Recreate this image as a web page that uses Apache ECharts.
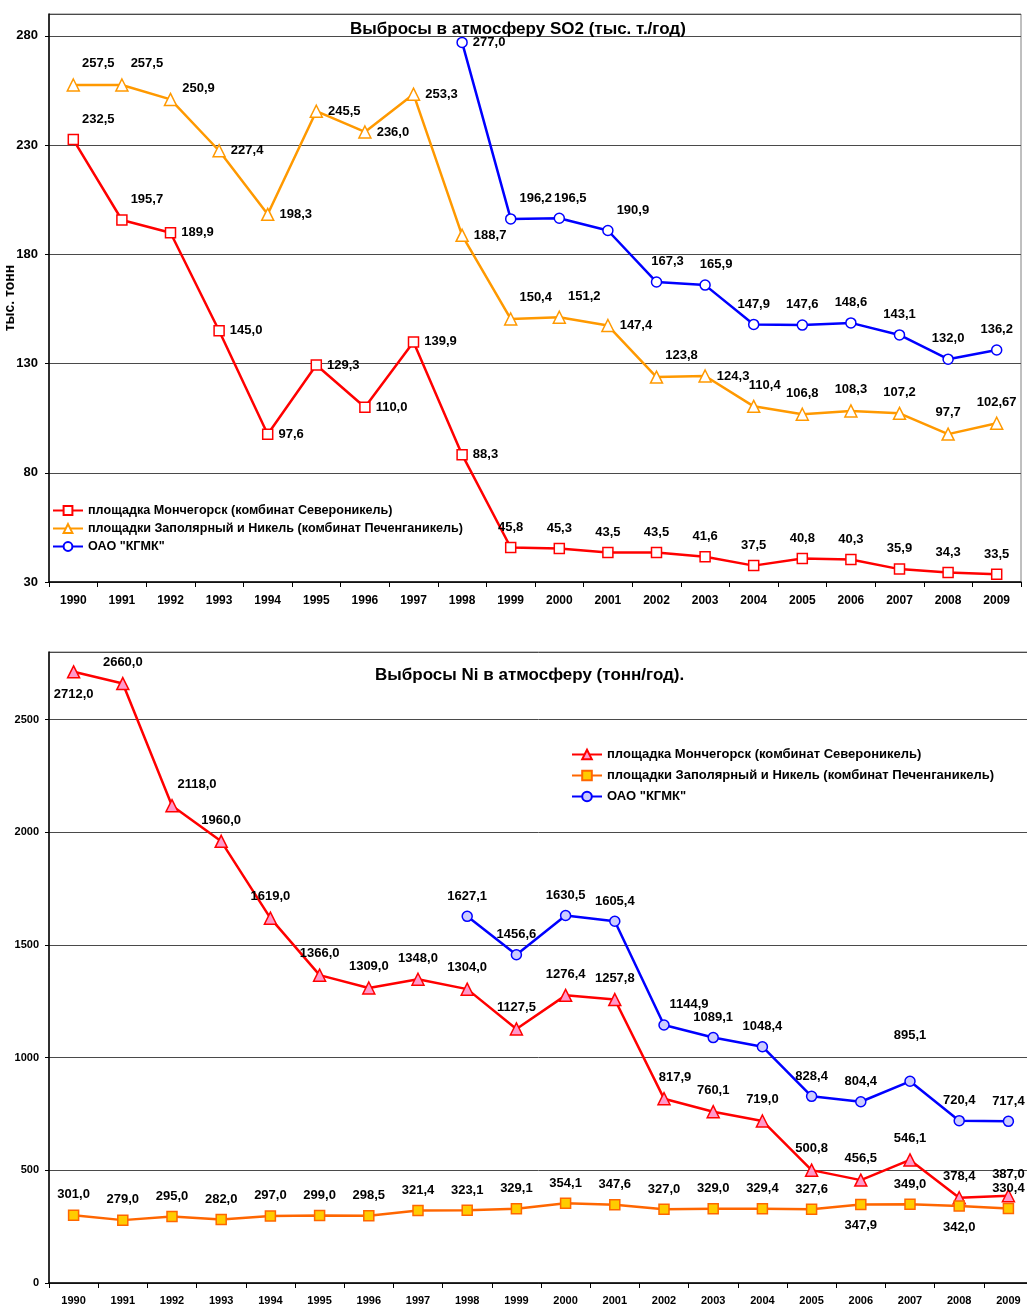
<!DOCTYPE html>
<html lang="ru">
<head>
<meta charset="UTF-8">
<title>Выбросы в атмосферу</title>
<style>
    * { margin: 0; padding: 0; }
    body { background: #fff; }
    #chart { width: 1027px; height: 1306px; }
</style>
</head>
<body>
<div id="chart"></div>
<script src="https://cdn.jsdelivr.net/npm/echarts@6/dist/echarts.min.js"></script>
<script>
var years = ['1990', '1991', '1992', '1993', '1994', '1995', '1996', '1997', '1998', '1999',
             '2000', '2001', '2002', '2003', '2004', '2005', '2006', '2007', '2008', '2009'];

var nameMonch = 'площадка Мончегорск (комбинат Североникель)';
var namePech = 'площадки Заполярный и Никель (комбинат Печенганикель)';
var nameKgmk = 'ОАО "КГМК"';

// SO2, тыс. т/год
var so2Monch = [232.5, 195.7, 189.9, 145.0, 97.6, 129.3, 110.0, 139.9, 88.3, 45.8,
                45.3, 43.5, 43.5, 41.6, 37.5, 40.8, 40.3, 35.9, 34.3, 33.5];
var so2Pech = [257.5, 257.5, 250.9, 227.4, 198.3, 245.5, 236.0, 253.3, 188.7, 150.4,
               151.2, 147.4, 123.8, 124.3, 110.4, 106.8, 108.3, 107.2, 97.7, 102.67];
var so2Kgmk = [null, null, null, null, null, null, null, null, 277.0, 196.2,
               196.5, 190.9, 167.3, 165.9, 147.9, 147.6, 148.6, 143.1, 132.0, 136.2];

// Ni, тонн/год
var niMonch = [2712.0, 2660.0, 2118.0, 1960.0, 1619.0, 1366.0, 1309.0, 1348.0, 1304.0, 1127.5,
               1276.4, 1257.8, 817.9, 760.1, 719.0, 500.8, 456.5, 546.1, 378.4, 387.0];
var niPech = [301.0, 279.0, 295.0, 282.0, 297.0, 299.0, 298.5, 321.4, 323.1, 329.1,
              354.1, 347.6, 327.0, 329.0, 329.4, 327.6, 347.9, 349.0, 342.0, 330.4];
var niKgmk = [null, null, null, null, null, null, null, null, 1627.1, 1456.6,
              1630.5, 1605.4, 1144.9, 1089.1, 1048.4, 828.4, 804.4, 895.1, 720.4, 717.4];

// где стоит подпись у каждой точки
var so2MonchPos = ['tr', 'tr', 'r', 'r', 'r', 'r', 'r', 'r', 'r', 't',
                   't', 't', 't', 't', 't', 't', 't', 't', 't', 't'];
var so2PechPos = ['tr', 'tr', 'ru', 'r', 'r', 'r', 'r', 'r', 'r', 'tr',
                  'tr', 'r', 'tr', 'r', 'ts', 't', 't', 't', 't', 't'];
var so2KgmkPos = ['', '', '', '', '', '', '', '', 'r', 'tr',
                  'ts', 'tr', 'ts', 'ts', 't', 't', 't', 't', 't', 't'];
var niMonchPos = ['b', 't', 'tr', 't', 't', 't', 't', 't', 't', 't',
                  't', 't', 'ts', 't', 't', 't', 't', 't', 't', 't'];
var niPechPos = ['t', 't', 't', 't', 't', 't', 't', 't', 't', 't',
                 't', 't', 't', 't', 't', 't', 'b', 't', 'b', 't'];
var niKgmkPos = ['', '', '', '', '', '', '', '', 't', 't',
                 't', 't', 'tr', 't', 't', 't', 't', 'tt', 't', 't'];

var FONT = '"Liberation Sans", Arial, sans-serif';

function fmt(v) {
    var s = String(v);
    if (s.indexOf('.') < 0) s += '.0';
    return s.replace('.', ',');
}

function place(code) {
    switch (code) {
        case 'r': return { position: 'right', distance: 5 };
        case 'ru': return { position: 'right', distance: 5, offset: [0, -11] };
        case 'b': return { position: 'bottom', distance: 9 };
        case 'tr': return { position: 'top', distance: 8, offset: [25, 0] };
        case 'ts': return { position: 'top', distance: 8, offset: [11, 0] };
        case 'tt': return { position: 'top', distance: 34 };
        default: return { position: 'top', distance: 8 };
    }
}

function makeSeries(name, vals, pos, idx, color, fill, symbol, size) {
    var data = [];
    for (var i = 0; i < vals.length; i++) {
        if (vals[i] == null) { data.push(null); continue; }
        data.push({ value: vals[i], label: place(pos[i]) });
    }
    return {
        name: name,
        type: 'line',
        xAxisIndex: idx,
        yAxisIndex: idx,
        data: data,
        symbol: symbol,
        symbolSize: size,
        showAllSymbol: true,
        lineStyle: { color: color, width: 2.5 },
        itemStyle: { color: fill, borderColor: color, borderWidth: 1.5 },
        label: {
            show: true,
            color: '#000',
            fontWeight: 'bold',
            fontSize: 13,
            fontFamily: FONT,
            formatter: function (p) { return fmt(p.value); }
        },
        emphasis: { disabled: true },
        z: 3
    };
}

var chart = echarts.init(document.getElementById('chart'));

var option = {
    backgroundColor: '#fff',
    animation: false,
    title: [
        {
            text: 'Выбросы в атмосферу SO2 (тыс. т./год)',
            left: 345, top: 16,
            textStyle: { fontSize: 17, fontWeight: 'bold', color: '#000', fontFamily: FONT }
        },
        {
            text: 'Выбросы Ni в атмосферу (тонн/год).',
            left: 370, top: 662,
            textStyle: { fontSize: 17, fontWeight: 'bold', color: '#000', fontFamily: FONT }
        }
    ],
    legend: [
        {
            data: [nameMonch, namePech, nameKgmk],
            orient: 'vertical',
            left: 47, top: 499,
            itemWidth: 30, itemHeight: 11, itemGap: 5,
            selectedMode: false,
            textStyle: { fontSize: 12.6, fontWeight: 'bold', color: '#000', fontFamily: FONT }
        },
        {
            data: [nameMonch + ' ', namePech + ' ', nameKgmk + ' '],
            orient: 'vertical',
            left: 566, top: 743,
            itemWidth: 30, itemHeight: 12, itemGap: 8,
            selectedMode: false,
            textStyle: { fontSize: 13, fontWeight: 'bold', color: '#000', fontFamily: FONT }
        }
    ],
    grid: [
        { left: 49, top: 14, width: 972, height: 568, outerBoundsMode: 'none', containLabel: false,
          show: true, borderColor: '#808080', borderWidth: 1, backgroundColor: '#fff' },
        { left: 49, top: 652, width: 984, height: 631, outerBoundsMode: 'none', containLabel: false,
          show: true, borderColor: '#808080', borderWidth: 1, backgroundColor: '#fff' }
    ],
    xAxis: [
        {
            type: 'category', gridIndex: 0, data: years,
            axisLine: { lineStyle: { color: '#000', width: 1.5 } },
            axisTick: { show: true, length: 5, lineStyle: { color: '#000' } },
            axisLabel: { color: '#000', fontSize: 12, fontWeight: 'bold', fontFamily: FONT, margin: 13, interval: 0 }
        },
        {
            type: 'category', gridIndex: 1, data: years,
            axisLine: { lineStyle: { color: '#000', width: 1.5 } },
            axisTick: { show: true, length: 5, lineStyle: { color: '#000' } },
            axisLabel: { color: '#000', fontSize: 11, fontWeight: 'bold', fontFamily: FONT, margin: 12, interval: 0 }
        }
    ],
    yAxis: [
        {
            type: 'value', gridIndex: 0, min: 30, max: 290, interval: 50,
            name: 'тыс. тонн', nameLocation: 'middle', nameGap: 32, nameRotate: 90,
            nameMoveOverlap: false,
            nameTextStyle: { color: '#000', fontSize: 14, fontWeight: 'bold', fontFamily: FONT },
            axisLine: { show: true, lineStyle: { color: '#000', width: 1.5 } },
            axisTick: { show: true, length: 4, lineStyle: { color: '#000' } },
            splitLine: { lineStyle: { color: '#4a4a4a', width: 1 } },
            axisLabel: { color: '#000', fontSize: 13, fontWeight: 'bold', fontFamily: FONT, margin: 11, showMaxLabel: false }
        },
        {
            type: 'value', gridIndex: 1, min: 0, max: 2800, interval: 500,
            axisLine: { show: true, lineStyle: { color: '#000', width: 1.5 } },
            axisTick: { show: true, length: 4, lineStyle: { color: '#000' } },
            splitLine: { lineStyle: { color: '#4a4a4a', width: 1 } },
            axisLabel: {
                color: '#000', fontSize: 11, fontWeight: 'bold', fontFamily: FONT, margin: 10, showMaxLabel: false,
                formatter: function (v) { return String(v); }
            }
        }
    ],
    series: [
        makeSeries(nameMonch, so2Monch, so2MonchPos, 0, '#FF0000', '#fff', 'rect', 10),
        makeSeries(namePech, so2Pech, so2PechPos, 0, '#FF9900', '#fff', 'triangle', 12),
        makeSeries(nameKgmk, so2Kgmk, so2KgmkPos, 0, '#0000FF', '#fff', 'circle', 10),
        makeSeries(nameMonch + ' ', niMonch, niMonchPos, 1, '#FF0000', '#FF99CC', 'triangle', 12),
        makeSeries(namePech + ' ', niPech, niPechPos, 1, '#FF6600', '#FFCC00', 'rect', 10),
        makeSeries(nameKgmk + ' ', niKgmk, niKgmkPos, 1, '#0000FF', '#CCCCFF', 'circle', 10)
    ]
};

chart.setOption(option);
</script>
</body>
</html>
